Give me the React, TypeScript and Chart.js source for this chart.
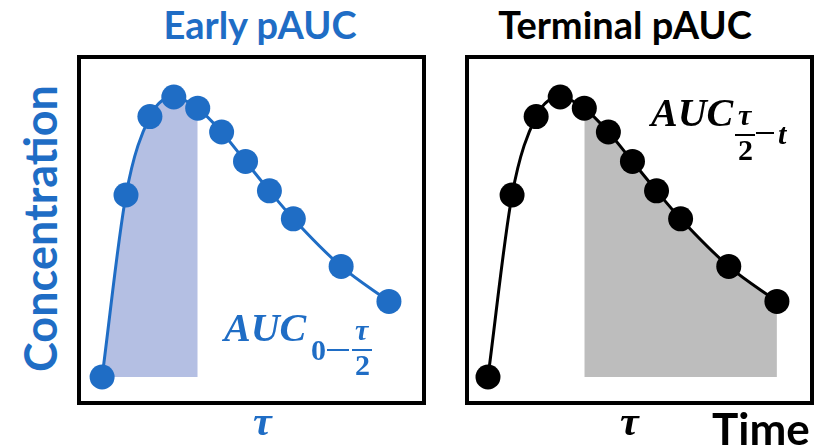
import React, { useEffect, useRef } from "react";
import { Chart, registerables } from "chart.js";

Chart.register(...registerables);

// ---- data ----
const times = [0, 1, 2, 3, 4, 5, 6, 7, 8, 10, 12];
const concentrations = [0, 65, 93, 100, 96, 87.5, 77, 66.5, 56.5, 39.5, 27];
const splitTime = 4; // tau/2 boundary
const panelTitles = ["Early pAUC", "Terminal pAUC"];

const BLUE = "#1f6dc5";
const BLUE_SHADE = "#b4bfe3";
const BLACK = "#000000";
const GRAY_SHADE = "#bdbdbd";

const borderPlugin = {
  id: "boxBorder",
  afterDraw(chart: any) {
    const { ctx, width, height } = chart;
    ctx.save();
    ctx.lineWidth = 4;
    ctx.strokeStyle = "#000";
    ctx.strokeRect(2, 2, width - 4, height - 4);
    ctx.restore();
  },
};

type PanelProps = {
  left: number;
  top: number;
  width: number;
  height: number;
  color: string;
  shade: string;
  early: boolean;
  xMin: number;
  xMax: number;
};

function Panel(p: PanelProps) {
  const ref = useRef<HTMLCanvasElement | null>(null);
  useEffect(() => {
    if (!ref.current) return;
    const pts = times.map((t, i) => ({ x: t, y: concentrations[i] }));
    const shadePts = p.early
      ? pts.filter((d) => d.x <= splitTime)
      : pts.filter((d) => d.x >= splitTime);
    const chart = new Chart(ref.current, {
      type: "line",
      data: {
        datasets: [
          {
            data: pts,
            borderColor: p.color,
            backgroundColor: p.color,
            pointBackgroundColor: p.color,
            pointBorderWidth: 0,
            pointRadius: 12.5,
            borderWidth: 3,
            cubicInterpolationMode: "monotone",
            fill: false,
            order: 0,
          },
          {
            data: shadePts,
            borderWidth: 0,
            borderColor: "rgba(0,0,0,0)",
            backgroundColor: p.shade,
            pointRadius: 0,
            cubicInterpolationMode: "monotone",
            fill: "origin",
            order: 1,
          },
        ],
      },
      options: {
        animation: false,
        responsive: false,
        maintainAspectRatio: false,
        layout: { padding: 0, autoPadding: false },
        plugins: {
          legend: { display: false },
          tooltip: { enabled: false },
          title: { display: false },
        },
        scales: {
          x: { type: "linear", display: false, min: p.xMin, max: p.xMax },
          y: { type: "linear", display: false, min: -10, max: 115 },
        },
      },
      plugins: [borderPlugin],
    } as any);
    return () => chart.destroy();
  }, []);
  return (
    <canvas
      ref={ref}
      width={p.width}
      height={p.height}
      style={{
        position: "absolute",
        left: p.left,
        top: p.top,
        width: p.width,
        height: p.height,
      }}
    />
  );
}

const sans = "Lato, 'Open Sans', sans-serif";
const serif = "'Liberation Serif', 'DejaVu Serif', serif";

function Txt(props: {
  x: number;
  y: number;
  size: number;
  color: string;
  family: string;
  italic?: boolean;
  children: React.ReactNode;
}) {
  return (
    <div
      style={{
        position: "absolute",
        left: props.x,
        top: props.y,
        fontSize: props.size,
        lineHeight: 1,
        fontFamily: props.family,
        fontWeight: 700,
        fontStyle: props.italic ? "italic" : "normal",
        color: props.color,
        whiteSpace: "nowrap",
      }}
    >
      {props.children}
    </div>
  );
}

export default function App() {
  return (
    <div
      style={{
        position: "fixed",
        left: 0,
        top: 0,
        width: 816,
        height: 448,
        background: "#fff",
        overflow: "hidden",
      }}
    >
      <Panel left={77} top={55} width={349} height={350} color={BLUE} shade={BLUE_SHADE} early={true} xMin={-1.05} xMax={13.55} />
      <Panel left={465} top={55} width={349} height={350} color={BLACK} shade={GRAY_SHADE} early={false} xMin={-0.955} xMax={13.54} />

      {/* titles */}
      <div style={{ position: "absolute", left: 160, width: 200, top: 5, textAlign: "center", fontFamily: sans, fontWeight: 700, fontSize: 38, lineHeight: 1, color: BLUE, whiteSpace: "nowrap" }}>
        {panelTitles[0]}
      </div>
      <div style={{ position: "absolute", left: 425, width: 400, top: 5, textAlign: "center", fontFamily: sans, fontWeight: 700, fontSize: 38, lineHeight: 1, color: BLACK, whiteSpace: "nowrap" }}>
        {panelTitles[1]}
      </div>

      {/* y label */}
      <div style={{ position: "absolute", left: 40 - 200, top: 228 - 22, width: 400, height: 45, textAlign: "center", transform: "rotate(-90deg)", fontFamily: sans, fontWeight: 700, fontSize: 45, lineHeight: 1, color: BLUE, whiteSpace: "nowrap" }}>
        Concentration
      </div>

      {/* x labels */}
      <Txt x={253} y={400} size={42} color={BLUE} family={serif} italic>τ</Txt>
      <Txt x={620} y={400} size={42} color={BLACK} family={serif} italic>τ</Txt>
      <Txt x={712} y={406} size={44} color={BLACK} family={sans}>Time</Txt>

      {/* AUC early */}
      <Txt x={224} y={308} size={40} color={BLUE} family={serif} italic>AUC</Txt>
      <Txt x={311} y={335} size={30} color={BLUE} family={serif}>0</Txt>
      <div style={{ position: "absolute", left: 327, top: 349, width: 22, height: 2, background: BLUE }} />
      <Txt x={355} y={315} size={30} color={BLUE} family={serif} italic>τ</Txt>
      <div style={{ position: "absolute", left: 352, top: 349, width: 20, height: 2, background: BLUE }} />
      <Txt x={355} y={350} size={30} color={BLUE} family={serif}>2</Txt>

      {/* AUC terminal */}
      <Txt x={651} y={93} size={40} color={BLACK} family={serif} italic>AUC</Txt>
      <Txt x={738} y={100} size={30} color={BLACK} family={serif} italic>τ</Txt>
      <div style={{ position: "absolute", left: 735, top: 134, width: 20, height: 2, background: BLACK }} />
      <Txt x={738} y={135} size={30} color={BLACK} family={serif}>2</Txt>
      <div style={{ position: "absolute", left: 756, top: 132, width: 18, height: 2, background: BLACK }} />
      <Txt x={778} y={119} size={30} color={BLACK} family={serif} italic>t</Txt>
    </div>
  );
}
